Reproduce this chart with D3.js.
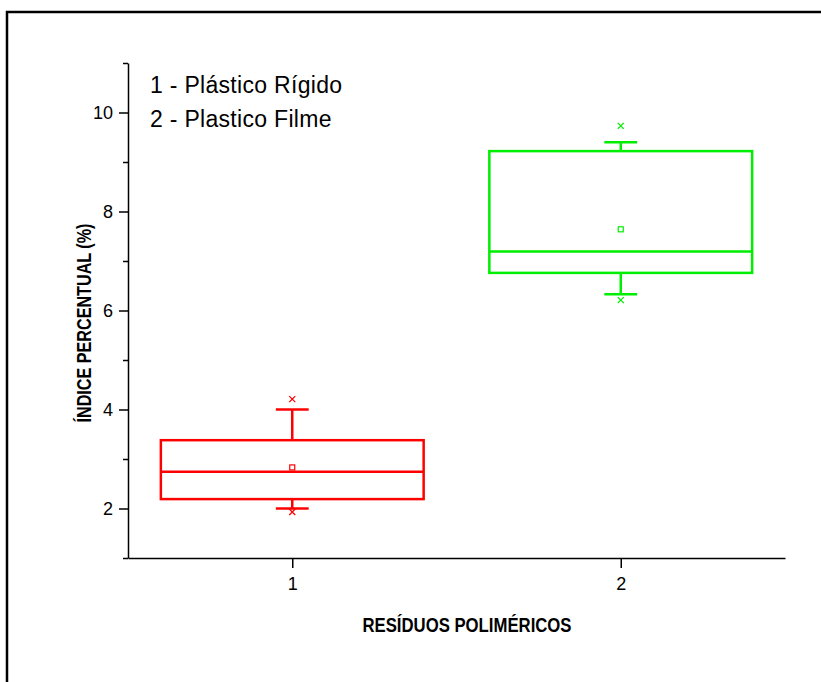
<!DOCTYPE html>
<html>
<head>
<meta charset="utf-8">
<script src="https://cdn.jsdelivr.net/npm/d3@7"></script>
<style>
  body { margin: 0; background: #fff; }
  svg { display: block; font-family: "Liberation Sans", Arial, sans-serif; }
</style>
</head>
<body>
<svg width="821" height="682"></svg>
<script>
// Box plot data
var categories = [1, 2];
var seriesNames = ["1 - Plástico Rígido", "2 - Plastico Filme"];
var q1Values = [2.19, 6.76];
var medianValues = [2.74, 7.19];
var q3Values = [3.38, 9.22];
var whiskerLow = [2.0, 6.33];
var whiskerHigh = [4.0, 9.40];
var meanValues = [2.83, 7.64];
var minValues = [1.93, 6.21];
var maxValues = [4.21, 9.73];
var yTickLabels = [2, 4, 6, 8, 10];
var yMinorTicks = [1, 3, 5, 7, 9, 11];

var boxHalf = 0.4, capHalf = 0.05;

var svg = d3.select("svg");

// Frame around the figure
svg.append("rect")
    .attr("x", 7).attr("y", 12)
    .attr("width", 900).attr("height", 900)
    .attr("fill", "none")
    .attr("stroke", "#000")
    .attr("stroke-width", 2.5);

var x = d3.scaleLinear().domain([0.5, 2.5]).range([128, 785]);
var y = d3.scaleLinear().domain([1, 11]).range([558, 63]);
var colour = d3.scaleOrdinal().domain(categories).range(["#ff0000", "#00ee00"]);

// Axes
svg.append("g")
    .attr("transform", "translate(" + x.range()[0] + ",0)")
    .call(d3.axisLeft(y).tickValues(yTickLabels).tickSize(9).tickSizeOuter(0).tickPadding(6));

svg.append("g")
    .attr("transform", "translate(" + x.range()[0] + ",0)")
    .call(d3.axisLeft(y).tickValues(yMinorTicks).tickSize(5).tickFormat(""))
    .select(".domain").remove();

svg.append("g")
    .attr("transform", "translate(0," + y.range()[0] + ")")
    .call(d3.axisBottom(x).tickValues(categories).tickSize(10).tickSizeOuter(0).tickPadding(9).tickFormat(d3.format("d")));

svg.selectAll(".domain, .tick line").attr("stroke", "#000").attr("stroke-width", 1.5);
svg.selectAll(".tick text").attr("font-size", 18).attr("fill", "#000")
    .attr("font-family", "'Liberation Sans', Arial, sans-serif");

// Axis titles
svg.append("text")
    .attr("x", 467).attr("y", 632)
    .attr("text-anchor", "middle")
    .attr("font-family", "'Liberation Sans Narrow', 'Arial Narrow', 'Liberation Sans', sans-serif")
    .attr("font-weight", "bold")
    .attr("font-size", 20)
    .attr("textLength", 209)
    .attr("lengthAdjust", "spacingAndGlyphs")
    .text("RESÍDUOS POLIMÉRICOS");

svg.append("text")
    .attr("transform", "translate(91,323) rotate(-90)")
    .attr("text-anchor", "middle")
    .attr("font-family", "'Liberation Sans Narrow', 'Arial Narrow', 'Liberation Sans', sans-serif")
    .attr("font-weight", "bold")
    .attr("font-size", 20)
    .attr("textLength", 199)
    .attr("lengthAdjust", "spacingAndGlyphs")
    .text("ÍNDICE PERCENTUAL (%)");

// Boxes
var boxes = svg.selectAll(".box")
    .data(categories)
  .enter().append("g")
    .attr("class", "box")
    .attr("stroke", function(d) { return colour(d); })
    .attr("fill", "none");

boxes.each(function(d, i) {
    var g = d3.select(this);
    // whiskers
    g.append("line")
        .attr("x1", x(d)).attr("x2", x(d))
        .attr("y1", y(q3Values[i])).attr("y2", y(whiskerHigh[i]))
        .attr("stroke-width", 2.5);
    g.append("line")
        .attr("x1", x(d)).attr("x2", x(d))
        .attr("y1", y(q1Values[i])).attr("y2", y(whiskerLow[i]))
        .attr("stroke-width", 2.5);
    [whiskerHigh[i], whiskerLow[i]].forEach(function(v) {
        g.append("line")
            .attr("x1", x(d - capHalf)).attr("x2", x(d + capHalf))
            .attr("y1", y(v)).attr("y2", y(v))
            .attr("stroke-width", 2.5);
    });
    // box and median
    g.append("rect")
        .attr("x", x(d - boxHalf))
        .attr("y", y(q3Values[i]))
        .attr("width", x(d + boxHalf) - x(d - boxHalf))
        .attr("height", y(q1Values[i]) - y(q3Values[i]))
        .attr("stroke-width", 2.5);
    g.append("line")
        .attr("x1", x(d - boxHalf)).attr("x2", x(d + boxHalf))
        .attr("y1", y(medianValues[i])).attr("y2", y(medianValues[i]))
        .attr("stroke-width", 2.5);
    // mean
    g.append("rect")
        .attr("x", x(d) - 2.5).attr("y", y(meanValues[i]) - 2.5)
        .attr("width", 5).attr("height", 5)
        .attr("stroke-width", 1.2);
    // min / max crosses
    [minValues[i], maxValues[i]].forEach(function(v) {
        g.append("path")
            .attr("d", "M" + (x(d) - 3) + "," + (y(v) - 3) + "l6,6M" + (x(d) + 3) + "," + (y(v) - 3) + "l-6,6")
            .attr("stroke-width", 1.3);
    });
});

// Legend
svg.append("g").selectAll("text")
    .data(seriesNames)
  .enter().append("text")
    .attr("x", 150)
    .attr("y", function(d, i) { return 93 + i * 34; })
    .attr("font-size", 23)
    .attr("letter-spacing", 0.3)
    .attr("fill", "#000")
    .text(function(d) { return d; });
</script>
</body>
</html>
